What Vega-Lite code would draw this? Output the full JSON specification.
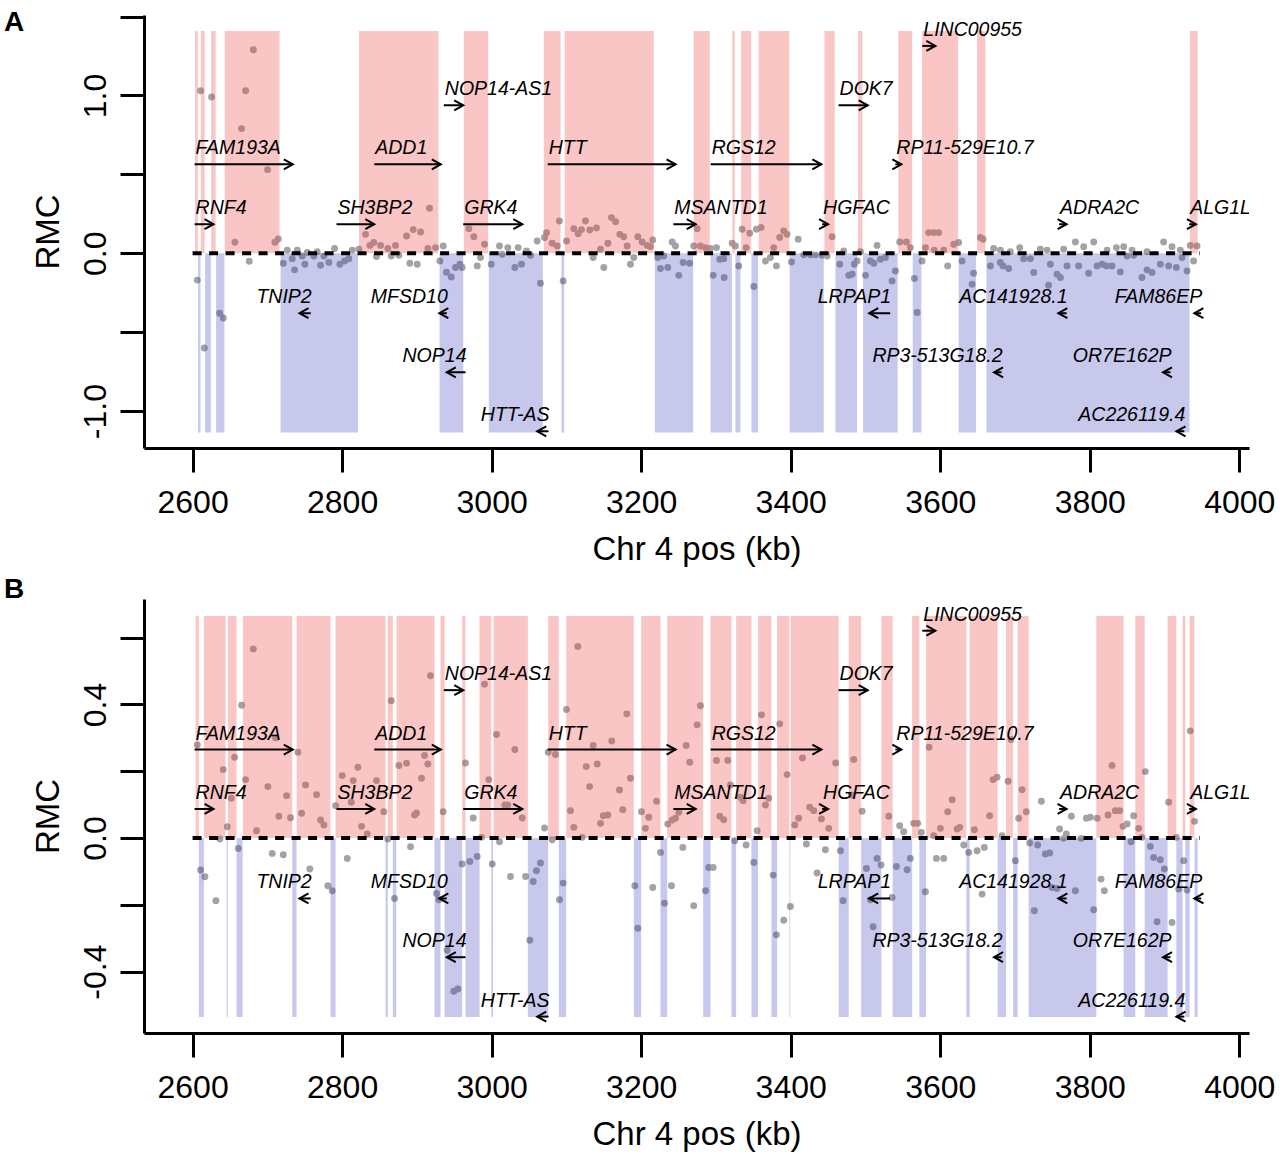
{
  "$schema": "https://vega.github.io/schema/vega-lite/v6.json",
  "description": "RMC along chr 4 (2.6-4.0 Mb), two panels with gene annotations.",
  "background": "white",
  "padding": {"left": 4, "right": 2, "top": 9, "bottom": 2},
  "spacing": 10,
  "config": {
    "font": "Liberation Sans",
    "view": {"stroke": null},
    "axis": {
      "grid": false,
      "domainColor": "black", "domainWidth": 3,
      "tickColor": "black", "tickWidth": 3, "tickSize": 24,
      "labelFont": "Liberation Sans", "labelFontSize": 32, "labelColor": "black",
      "titleFont": "Liberation Sans", "titleFontSize": 33, "titleFontWeight": "normal", "titleColor": "black",
      "labelFlush": false, "labelOverlap": false, "labelBound": false
    }
  },
  "datasets": {
    "genes": [
      {"gene": "RNF4", "left": 2602.7, "right": 2628, "strand": "+", "yA": 0.184, "yB": 0.087},
      {"gene": "FAM193A", "left": 2602.7, "right": 2734, "strand": "+", "yA": 0.564, "yB": 0.265},
      {"gene": "SH3BP2", "left": 2792.5, "right": 2843, "strand": "+", "yA": 0.184, "yB": 0.087},
      {"gene": "ADD1", "left": 2843, "right": 2932, "strand": "+", "yA": 0.564, "yB": 0.265},
      {"gene": "NOP14-AS1", "left": 2936, "right": 2962, "strand": "+", "yA": 0.938, "yB": 0.443},
      {"gene": "GRK4", "left": 2962, "right": 3041, "strand": "+", "yA": 0.184, "yB": 0.087},
      {"gene": "HTT", "left": 3075, "right": 3246, "strand": "+", "yA": 0.564, "yB": 0.265},
      {"gene": "MSANTD1", "left": 3243, "right": 3273, "strand": "+", "yA": 0.184, "yB": 0.087},
      {"gene": "RGS12", "left": 3293, "right": 3441, "strand": "+", "yA": 0.564, "yB": 0.265},
      {"gene": "HGFAC", "left": 3442, "right": 3450, "strand": "+", "yA": 0.184, "yB": 0.087},
      {"gene": "DOK7", "left": 3464, "right": 3503, "strand": "+", "yA": 0.938, "yB": 0.443},
      {"gene": "RP11-529E10.7", "left": 3540, "right": 3548, "strand": "+", "yA": 0.564, "yB": 0.265},
      {"gene": "LINC00955", "left": 3576, "right": 3593.5, "strand": "+", "yA": 1.314, "yB": 0.621},
      {"gene": "ADRA2C", "left": 3759, "right": 3769, "strand": "+", "yA": 0.184, "yB": 0.087},
      {"gene": "ALG1L", "left": 3933, "right": 3942, "strand": "+", "yA": 0.184, "yB": 0.087},
      {"gene": "TNIP2", "left": 2743, "right": 2758, "strand": "-", "yA": -0.38, "yB": -0.181},
      {"gene": "MFSD10", "left": 2930, "right": 2940, "strand": "-", "yA": -0.38, "yB": -0.181},
      {"gene": "NOP14", "left": 2940, "right": 2965, "strand": "-", "yA": -0.754, "yB": -0.357},
      {"gene": "HTT-AS", "left": 3061, "right": 3076, "strand": "-", "yA": -1.128, "yB": -0.535},
      {"gene": "LRPAP1", "left": 3505, "right": 3533, "strand": "-", "yA": -0.38, "yB": -0.181},
      {"gene": "AC141928.1", "left": 3758, "right": 3769, "strand": "-", "yA": -0.38, "yB": -0.181},
      {"gene": "RP3-513G18.2", "left": 3672, "right": 3682, "strand": "-", "yA": -0.754, "yB": -0.357},
      {"gene": "FAM86EP", "left": 3940, "right": 3949, "strand": "-", "yA": -0.38, "yB": -0.181},
      {"gene": "OR7E162P", "left": 3898, "right": 3908, "strand": "-", "yA": -0.754, "yB": -0.357},
      {"gene": "AC226119.4", "left": 3916, "right": 3926.5, "strand": "-", "yA": -1.128, "yB": -0.535}
    ],
    "zeroline": [{"from": 2600, "to": 3947, "level": 0}],
    "regionsA": [
      {"start": 2603.3, "end": 2607.0, "sign": "pos"}, {"start": 2607.4, "end": 2610.5, "sign": "neg"},
      {"start": 2610.9, "end": 2616.0, "sign": "pos"}, {"start": 2616.7, "end": 2624.5, "sign": "neg"},
      {"start": 2624.9, "end": 2630.8, "sign": "pos"}, {"start": 2631.4, "end": 2642.6, "sign": "neg"},
      {"start": 2643.0, "end": 2716.3, "sign": "pos"}, {"start": 2717.7, "end": 2821.3, "sign": "neg"},
      {"start": 2822.6, "end": 2928.9, "sign": "pos"}, {"start": 2930.3, "end": 2962.0, "sign": "neg"},
      {"start": 2962.8, "end": 2995.4, "sign": "pos"}, {"start": 2996.2, "end": 3068.4, "sign": "neg"},
      {"start": 3069.8, "end": 3092.1, "sign": "pos"}, {"start": 3093.4, "end": 3097.0, "sign": "neg"},
      {"start": 3097.8, "end": 3216.8, "sign": "pos"}, {"start": 3218.2, "end": 3269.5, "sign": "neg"},
      {"start": 3270.3, "end": 3291.7, "sign": "pos"}, {"start": 3292.7, "end": 3321.4, "sign": "neg"},
      {"start": 3321.9, "end": 3325.2, "sign": "pos"}, {"start": 3326.1, "end": 3332.8, "sign": "neg"},
      {"start": 3333.7, "end": 3347.1, "sign": "pos"}, {"start": 3347.5, "end": 3356.4, "sign": "neg"},
      {"start": 3357.2, "end": 3398.3, "sign": "pos"}, {"start": 3398.7, "end": 3444.2, "sign": "neg"},
      {"start": 3445.1, "end": 3458.9, "sign": "pos"}, {"start": 3459.8, "end": 3488.8, "sign": "neg"},
      {"start": 3490.2, "end": 3495.9, "sign": "pos"}, {"start": 3496.8, "end": 3543.1, "sign": "neg"},
      {"start": 3544.0, "end": 3562.4, "sign": "pos"}, {"start": 3563.2, "end": 3574.8, "sign": "neg"},
      {"start": 3575.7, "end": 3623.9, "sign": "pos"}, {"start": 3624.7, "end": 3647.9, "sign": "neg"},
      {"start": 3649.3, "end": 3660.4, "sign": "pos"}, {"start": 3661.7, "end": 3933.4, "sign": "neg"},
      {"start": 3933.8, "end": 3944.3, "sign": "pos"}
    ],
    "regionsB": [
      {"start": 2604.0, "end": 2608.4, "sign": "pos"}, {"start": 2608.4, "end": 2615.1, "sign": "neg"},
      {"start": 2615.1, "end": 2644.1, "sign": "pos"}, {"start": 2645.5, "end": 2647.0, "sign": "neg"},
      {"start": 2647.2, "end": 2658.8, "sign": "pos"}, {"start": 2658.8, "end": 2666.9, "sign": "neg"},
      {"start": 2667.3, "end": 2733.3, "sign": "pos"}, {"start": 2733.3, "end": 2739.1, "sign": "neg"},
      {"start": 2739.1, "end": 2784.5, "sign": "pos"}, {"start": 2784.5, "end": 2791.2, "sign": "neg"},
      {"start": 2791.2, "end": 2858.1, "sign": "pos"}, {"start": 2858.1, "end": 2861.1, "sign": "neg"},
      {"start": 2861.1, "end": 2867.8, "sign": "pos"}, {"start": 2867.8, "end": 2872.4, "sign": "neg"},
      {"start": 2872.8, "end": 2923.6, "sign": "pos"}, {"start": 2923.6, "end": 2931.6, "sign": "neg"},
      {"start": 2931.6, "end": 2937.0, "sign": "pos"}, {"start": 2937.0, "end": 2960.6, "sign": "neg"},
      {"start": 2960.6, "end": 2965.0, "sign": "pos"}, {"start": 2965.0, "end": 2983.8, "sign": "neg"},
      {"start": 2983.8, "end": 2999.4, "sign": "pos"}, {"start": 2999.6, "end": 3001.8, "sign": "neg"},
      {"start": 3002.5, "end": 3048.4, "sign": "pos"}, {"start": 3048.4, "end": 3075.6, "sign": "neg"},
      {"start": 3075.6, "end": 3089.8, "sign": "pos"}, {"start": 3089.8, "end": 3099.7, "sign": "neg"},
      {"start": 3099.7, "end": 3190.1, "sign": "pos"}, {"start": 3190.1, "end": 3200.0, "sign": "neg"},
      {"start": 3200.0, "end": 3225.8, "sign": "pos"}, {"start": 3225.8, "end": 3234.8, "sign": "neg"},
      {"start": 3234.8, "end": 3282.9, "sign": "pos"}, {"start": 3282.9, "end": 3292.7, "sign": "neg"},
      {"start": 3292.7, "end": 3320.7, "sign": "pos"}, {"start": 3320.7, "end": 3327.0, "sign": "neg"},
      {"start": 3327.0, "end": 3347.5, "sign": "pos"}, {"start": 3347.5, "end": 3356.4, "sign": "neg"},
      {"start": 3356.4, "end": 3374.2, "sign": "pos"}, {"start": 3374.2, "end": 3381.8, "sign": "neg"},
      {"start": 3381.8, "end": 3398.0, "sign": "pos"}, {"start": 3398.3, "end": 3399.4, "sign": "neg"},
      {"start": 3399.8, "end": 3464.2, "sign": "pos"}, {"start": 3464.2, "end": 3477.6, "sign": "neg"},
      {"start": 3477.6, "end": 3494.2, "sign": "pos"}, {"start": 3494.2, "end": 3521.3, "sign": "neg"},
      {"start": 3521.3, "end": 3536.4, "sign": "pos"}, {"start": 3536.4, "end": 3562.4, "sign": "neg"},
      {"start": 3562.4, "end": 3572.1, "sign": "pos"}, {"start": 3572.1, "end": 3581.1, "sign": "neg"},
      {"start": 3581.1, "end": 3635.0, "sign": "pos"}, {"start": 3635.0, "end": 3639.4, "sign": "neg"},
      {"start": 3639.4, "end": 3676.8, "sign": "pos"}, {"start": 3676.8, "end": 3688.1, "sign": "neg"},
      {"start": 3688.1, "end": 3697.4, "sign": "pos"}, {"start": 3697.4, "end": 3703.6, "sign": "neg"},
      {"start": 3703.6, "end": 3718.3, "sign": "pos"}, {"start": 3718.3, "end": 3808.8, "sign": "neg"},
      {"start": 3808.8, "end": 3845.3, "sign": "pos"}, {"start": 3845.3, "end": 3860.9, "sign": "neg"},
      {"start": 3860.9, "end": 3873.4, "sign": "pos"}, {"start": 3873.4, "end": 3904.1, "sign": "neg"},
      {"start": 3904.1, "end": 3915.8, "sign": "pos"}, {"start": 3915.8, "end": 3924.2, "sign": "neg"},
      {"start": 3924.2, "end": 3927.8, "sign": "pos"}, {"start": 3927.8, "end": 3933.6, "sign": "neg"},
      {"start": 3933.6, "end": 3939.8, "sign": "pos"}, {"start": 3940.2, "end": 3944.3, "sign": "neg"}
    ],
    "pointsA": [
      {"pos": 2610.7, "rmc": 1.03}, {"pos": 2625.4, "rmc": 0.99}, {"pos": 2681.2, "rmc": 1.29}, {"pos": 2670.9, "rmc": 1.03},
      {"pos": 2665.5, "rmc": 0.79}, {"pos": 2700.3, "rmc": 0.53}, {"pos": 2656.6, "rmc": 0.07}, {"pos": 2710.1, "rmc": 0.07},
      {"pos": 2714.6, "rmc": 0.09}, {"pos": 2606.3, "rmc": -0.17}, {"pos": 2615.6, "rmc": -0.6}, {"pos": 2636.1, "rmc": -0.38},
      {"pos": 2641.1, "rmc": -0.41}, {"pos": 2675.8, "rmc": -0.05}, {"pos": 2726.6, "rmc": 0.02}, {"pos": 2740.0, "rmc": 0.02},
      {"pos": 2753.4, "rmc": 0.005}, {"pos": 2766.7, "rmc": 0.01}, {"pos": 2789.9, "rmc": 0.03}, {"pos": 2813.5, "rmc": 0.02},
      {"pos": 2822.4, "rmc": 0.025}, {"pos": 2721.3, "rmc": -0.063}, {"pos": 2733.3, "rmc": -0.034}, {"pos": 2736.4, "rmc": -0.105},
      {"pos": 2750.2, "rmc": -0.07}, {"pos": 2762.2, "rmc": -0.017}, {"pos": 2771.2, "rmc": -0.076}, {"pos": 2775.6, "rmc": -0.017},
      {"pos": 2782.3, "rmc": -0.059}, {"pos": 2797.0, "rmc": -0.07}, {"pos": 2803.3, "rmc": -0.049}, {"pos": 2809.0, "rmc": -0.034},
      {"pos": 2746.7, "rmc": -0.017}, {"pos": 2831.3, "rmc": 0.12}, {"pos": 2837.1, "rmc": 0.05}, {"pos": 2842.4, "rmc": 0.068},
      {"pos": 2851.4, "rmc": 0.05}, {"pos": 2861.2, "rmc": 0.03}, {"pos": 2871.4, "rmc": 0.05}, {"pos": 2886.2, "rmc": 0.11},
      {"pos": 2895.1, "rmc": 0.15}, {"pos": 2904.9, "rmc": 0.135}, {"pos": 2914.7, "rmc": 0.03}, {"pos": 2916.9, "rmc": 0.285},
      {"pos": 2846.0, "rmc": -0.02}, {"pos": 2865.7, "rmc": -0.017}, {"pos": 2875.9, "rmc": -0.013}, {"pos": 2890.6, "rmc": -0.063},
      {"pos": 2900.5, "rmc": -0.07}, {"pos": 2925.0, "rmc": 0.036}, {"pos": 2935.2, "rmc": 0.046}, {"pos": 2930.7, "rmc": -0.049},
      {"pos": 2939.6, "rmc": -0.12}, {"pos": 2946.0, "rmc": -0.15}, {"pos": 2951.7, "rmc": -0.09}, {"pos": 2957.5, "rmc": -0.07},
      {"pos": 2960.6, "rmc": -0.09}, {"pos": 2969.5, "rmc": 0.156}, {"pos": 2976.2, "rmc": 0.105}, {"pos": 2990.5, "rmc": 0.057},
      {"pos": 2980.7, "rmc": -0.08}, {"pos": 2985.1, "rmc": -0.027}, {"pos": 3010.5, "rmc": 0.046}, {"pos": 3021.6, "rmc": 0.036},
      {"pos": 3035.5, "rmc": 0.036}, {"pos": 3060.9, "rmc": 0.078}, {"pos": 3046.6, "rmc": 0.015}, {"pos": 2999.4, "rmc": -0.07},
      {"pos": 3014.1, "rmc": -0.006}, {"pos": 3031.0, "rmc": -0.09}, {"pos": 3039.9, "rmc": -0.07}, {"pos": 3065.3, "rmc": -0.19},
      {"pos": 3052.0, "rmc": -0.013}, {"pos": 3073.4, "rmc": 0.13}, {"pos": 3070.7, "rmc": 0.1}, {"pos": 3081.0, "rmc": 0.063},
      {"pos": 3087.7, "rmc": 0.046}, {"pos": 3090.7, "rmc": 0.205}, {"pos": 3100.1, "rmc": 0.078}, {"pos": 3109.9, "rmc": 0.156},
      {"pos": 3115.7, "rmc": 0.124}, {"pos": 3120.2, "rmc": 0.15}, {"pos": 3125.5, "rmc": 0.205}, {"pos": 3131.3, "rmc": 0.147},
      {"pos": 3140.2, "rmc": 0.16}, {"pos": 3145.6, "rmc": 0.025}, {"pos": 3155.4, "rmc": 0.063}, {"pos": 3160.3, "rmc": 0.226},
      {"pos": 3165.7, "rmc": 0.2}, {"pos": 3171.4, "rmc": 0.12}, {"pos": 3176.7, "rmc": 0.105}, {"pos": 3181.2, "rmc": 0.046},
      {"pos": 3195.5, "rmc": 0.105}, {"pos": 3201.3, "rmc": 0.072}, {"pos": 3208.0, "rmc": 0.05}, {"pos": 3212.4, "rmc": 0.042},
      {"pos": 3215.5, "rmc": 0.084}, {"pos": 3135.8, "rmc": -0.027}, {"pos": 3150.0, "rmc": -0.09}, {"pos": 3185.7, "rmc": -0.07},
      {"pos": 3190.1, "rmc": -0.027}, {"pos": 3095.7, "rmc": -0.175}, {"pos": 3241.5, "rmc": 0.072}, {"pos": 3245.9, "rmc": 0.046},
      {"pos": 3222.2, "rmc": -0.027}, {"pos": 3225.8, "rmc": -0.097}, {"pos": 3235.6, "rmc": -0.09}, {"pos": 3250.3, "rmc": -0.14},
      {"pos": 3256.1, "rmc": -0.059}, {"pos": 3264.9, "rmc": -0.063}, {"pos": 3230.2, "rmc": -0.017}, {"pos": 3274.9, "rmc": 0.156},
      {"pos": 3270.3, "rmc": 0.046}, {"pos": 3279.3, "rmc": 0.046}, {"pos": 3285.9, "rmc": 0.036}, {"pos": 3292.6, "rmc": 0.03},
      {"pos": 3300.7, "rmc": 0.036}, {"pos": 3321.7, "rmc": 0.063}, {"pos": 3326.1, "rmc": 0.046}, {"pos": 3335.0, "rmc": 0.152},
      {"pos": 3345.2, "rmc": 0.127}, {"pos": 3354.2, "rmc": 0.152}, {"pos": 3360.4, "rmc": 0.163}, {"pos": 3340.4, "rmc": 0.036},
      {"pos": 3366.2, "rmc": -0.049}, {"pos": 3372.9, "rmc": -0.027}, {"pos": 3380.9, "rmc": -0.08}, {"pos": 3377.3, "rmc": 0.036},
      {"pos": 3385.3, "rmc": 0.1}, {"pos": 3390.7, "rmc": 0.141}, {"pos": 3395.2, "rmc": 0.12}, {"pos": 3410.0, "rmc": 0.089},
      {"pos": 3305.1, "rmc": -0.038}, {"pos": 3310.4, "rmc": -0.034}, {"pos": 3296.3, "rmc": -0.14}, {"pos": 3311.0, "rmc": -0.154},
      {"pos": 3330.5, "rmc": -0.08}, {"pos": 3350.6, "rmc": -0.21}, {"pos": 3401.0, "rmc": -0.055}, {"pos": 3417.5, "rmc": -0.01},
      {"pos": 3426.4, "rmc": -0.01}, {"pos": 3433.1, "rmc": -0.01}, {"pos": 3442.1, "rmc": -0.013}, {"pos": 3448.7, "rmc": -0.017},
      {"pos": 3455.4, "rmc": 0.105}, {"pos": 3470.9, "rmc": 0.015}, {"pos": 3493.3, "rmc": 0.01}, {"pos": 3515.5, "rmc": 0.05},
      {"pos": 3465.6, "rmc": -0.07}, {"pos": 3477.6, "rmc": -0.14}, {"pos": 3482.2, "rmc": -0.133}, {"pos": 3485.2, "rmc": -0.07},
      {"pos": 3488.8, "rmc": -0.049}, {"pos": 3500.0, "rmc": -0.14}, {"pos": 3506.6, "rmc": -0.049}, {"pos": 3511.1, "rmc": -0.063},
      {"pos": 3520.0, "rmc": -0.038}, {"pos": 3526.7, "rmc": -0.027}, {"pos": 3535.6, "rmc": -0.175}, {"pos": 3540.1, "rmc": -0.112},
      {"pos": 3569.1, "rmc": -0.375}, {"pos": 3565.4, "rmc": -0.16}, {"pos": 3545.8, "rmc": 0.072}, {"pos": 3554.8, "rmc": 0.072},
      {"pos": 3560.1, "rmc": 0.036}, {"pos": 3584.6, "rmc": 0.131}, {"pos": 3591.3, "rmc": 0.131}, {"pos": 3598.0, "rmc": 0.131},
      {"pos": 3580.2, "rmc": 0.036}, {"pos": 3592.0, "rmc": 0.02}, {"pos": 3604.7, "rmc": 0.02}, {"pos": 3618.1, "rmc": 0.057},
      {"pos": 3624.7, "rmc": 0.068}, {"pos": 3575.8, "rmc": -0.049}, {"pos": 3610.0, "rmc": -0.08}, {"pos": 3653.7, "rmc": 0.1},
      {"pos": 3657.3, "rmc": 0.089}, {"pos": 3934.5, "rmc": 0.05}, {"pos": 3943.5, "rmc": 0.046}, {"pos": 3671.5, "rmc": 0.03},
      {"pos": 3680.4, "rmc": 0.02}, {"pos": 3693.8, "rmc": 0.01}, {"pos": 3706.3, "rmc": 0.036}, {"pos": 3733.9, "rmc": 0.025},
      {"pos": 3742.9, "rmc": 0.02}, {"pos": 3765.1, "rmc": 0.025}, {"pos": 3780.8, "rmc": 0.072}, {"pos": 3791.9, "rmc": 0.042},
      {"pos": 3805.3, "rmc": 0.072}, {"pos": 3823.2, "rmc": 0.02}, {"pos": 3835.6, "rmc": 0.036}, {"pos": 3845.4, "rmc": 0.042},
      {"pos": 3856.6, "rmc": 0.02}, {"pos": 3876.6, "rmc": 0.01}, {"pos": 3898.8, "rmc": 0.072}, {"pos": 3910.0, "rmc": 0.042},
      {"pos": 3921.1, "rmc": 0.02}, {"pos": 3938.9, "rmc": -0.049}, {"pos": 3629.2, "rmc": -0.049}, {"pos": 3644.7, "rmc": -0.127},
      {"pos": 3667.1, "rmc": -0.08}, {"pos": 3680.4, "rmc": -0.059}, {"pos": 3684.0, "rmc": -0.08}, {"pos": 3691.5, "rmc": -0.097},
      {"pos": 3711.6, "rmc": -0.034}, {"pos": 3720.6, "rmc": -0.034}, {"pos": 3725.0, "rmc": -0.122}, {"pos": 3747.3, "rmc": -0.07},
      {"pos": 3756.3, "rmc": -0.133}, {"pos": 3760.7, "rmc": -0.154}, {"pos": 3745.0, "rmc": -0.203}, {"pos": 3769.6, "rmc": -0.08},
      {"pos": 3785.2, "rmc": -0.08}, {"pos": 3798.5, "rmc": -0.127}, {"pos": 3809.8, "rmc": -0.08}, {"pos": 3816.5, "rmc": -0.07},
      {"pos": 3822.2, "rmc": -0.08}, {"pos": 3829.8, "rmc": -0.08}, {"pos": 3840.9, "rmc": -0.118}, {"pos": 3849.9, "rmc": -0.017},
      {"pos": 3858.7, "rmc": -0.013}, {"pos": 3869.9, "rmc": -0.154}, {"pos": 3876.6, "rmc": -0.105}, {"pos": 3883.3, "rmc": -0.122},
      {"pos": 3894.4, "rmc": -0.07}, {"pos": 3905.5, "rmc": -0.08}, {"pos": 3915.8, "rmc": -0.09}, {"pos": 3930.1, "rmc": -0.112},
      {"pos": 3923.4, "rmc": -0.027}, {"pos": 3642.6, "rmc": -0.196}
    ],
    "pointsB": [
      {"pos": 2681.2, "rmc": 0.566}, {"pos": 2665.5, "rmc": 0.398}, {"pos": 2606.3, "rmc": 0.279}, {"pos": 2711.0, "rmc": 0.3},
      {"pos": 2740.8, "rmc": 0.257}, {"pos": 2656.2, "rmc": 0.242}, {"pos": 2641.0, "rmc": 0.205}, {"pos": 2670.9, "rmc": 0.175},
      {"pos": 2700.7, "rmc": 0.154}, {"pos": 2651.7, "rmc": 0.119}, {"pos": 2725.7, "rmc": 0.127}, {"pos": 2751.1, "rmc": 0.159},
      {"pos": 2765.8, "rmc": 0.13}, {"pos": 2715.4, "rmc": 0.065}, {"pos": 2731.0, "rmc": 0.061}, {"pos": 2745.8, "rmc": 0.074},
      {"pos": 2771.2, "rmc": 0.054}, {"pos": 2775.6, "rmc": 0.039}, {"pos": 2685.6, "rmc": 0.022}, {"pos": 2646.4, "rmc": 0.034},
      {"pos": 2636.5, "rmc": -0.003}, {"pos": 2610.7, "rmc": -0.096}, {"pos": 2616.5, "rmc": -0.116}, {"pos": 2661.1, "rmc": -0.031},
      {"pos": 2631.2, "rmc": -0.188}, {"pos": 2706.5, "rmc": -0.046}, {"pos": 2721.3, "rmc": -0.05}, {"pos": 2756.8, "rmc": -0.093},
      {"pos": 2780.9, "rmc": -0.143}, {"pos": 2786.8, "rmc": -0.158}, {"pos": 2806.9, "rmc": -0.061}, {"pos": 2800.2, "rmc": 0.187},
      {"pos": 2821.1, "rmc": 0.212}, {"pos": 2814.9, "rmc": 0.172}, {"pos": 2791.2, "rmc": 0.097}, {"pos": 2812.2, "rmc": 0.107},
      {"pos": 2826.0, "rmc": 0.035}, {"pos": 2833.6, "rmc": 0.012}, {"pos": 2846.0, "rmc": 0.172}, {"pos": 2855.8, "rmc": 0.079},
      {"pos": 2875.9, "rmc": 0.217}, {"pos": 2886.2, "rmc": 0.224}, {"pos": 2865.7, "rmc": 0.411}, {"pos": 2861.2, "rmc": -0.003},
      {"pos": 2891.5, "rmc": -0.026}, {"pos": 2870.1, "rmc": -0.181}, {"pos": 2896.9, "rmc": 0.069}, {"pos": 2899.5, "rmc": 0.075},
      {"pos": 2906.2, "rmc": 0.179}, {"pos": 2910.2, "rmc": 0.247}, {"pos": 2914.7, "rmc": 0.222}, {"pos": 2918.2, "rmc": 0.486},
      {"pos": 2935.2, "rmc": 0.079}, {"pos": 2926.3, "rmc": -0.166}, {"pos": 2929.3, "rmc": -0.185}, {"pos": 2940.5, "rmc": -0.336},
      {"pos": 2949.4, "rmc": -0.459}, {"pos": 2954.8, "rmc": -0.452}, {"pos": 2960.6, "rmc": -0.078}, {"pos": 2970.8, "rmc": -0.07},
      {"pos": 2980.7, "rmc": -0.055}, {"pos": 2965.0, "rmc": 0.225}, {"pos": 2975.3, "rmc": 0.06}, {"pos": 2990.5, "rmc": 0.461},
      {"pos": 2996.2, "rmc": 0.175}, {"pos": 3006.5, "rmc": 0.31}, {"pos": 3031.0, "rmc": 0.265}, {"pos": 3017.6, "rmc": 0.099},
      {"pos": 3021.6, "rmc": 0.099}, {"pos": 3040.9, "rmc": 0.06}, {"pos": 2986.5, "rmc": 0.002}, {"pos": 3000.8, "rmc": -0.078},
      {"pos": 3010.5, "rmc": -0.011}, {"pos": 3025.2, "rmc": -0.115}, {"pos": 3045.3, "rmc": -0.115}, {"pos": 3055.6, "rmc": -0.13},
      {"pos": 3060.0, "rmc": -0.098}, {"pos": 3065.3, "rmc": -0.075}, {"pos": 3051.0, "rmc": -0.306}, {"pos": 3070.7, "rmc": 0.03},
      {"pos": 3075.6, "rmc": 0.257}, {"pos": 3085.4, "rmc": 0.25}, {"pos": 3081.0, "rmc": -0.005}, {"pos": 3095.7, "rmc": -0.135},
      {"pos": 3090.7, "rmc": -0.185}, {"pos": 3115.2, "rmc": 0.574}, {"pos": 3100.1, "rmc": 0.385}, {"pos": 3105.5, "rmc": 0.082},
      {"pos": 3109.9, "rmc": 0.032}, {"pos": 3121.1, "rmc": 0.002}, {"pos": 3126.5, "rmc": 0.214}, {"pos": 3141.2, "rmc": 0.222},
      {"pos": 3131.0, "rmc": 0.154}, {"pos": 3135.8, "rmc": 0.277}, {"pos": 3149.2, "rmc": 0.067}, {"pos": 3155.4, "rmc": 0.069},
      {"pos": 3145.6, "rmc": 0.044}, {"pos": 3160.7, "rmc": 0.291}, {"pos": 3171.0, "rmc": 0.144}, {"pos": 3175.4, "rmc": 0.085},
      {"pos": 3180.8, "rmc": 0.372}, {"pos": 3185.7, "rmc": 0.179}, {"pos": 3191.5, "rmc": -0.143}, {"pos": 3195.5, "rmc": -0.27},
      {"pos": 3200.4, "rmc": 0.079}, {"pos": 3210.2, "rmc": 0.062}, {"pos": 3205.7, "rmc": 0.029}, {"pos": 3215.5, "rmc": -0.148},
      {"pos": 3220.5, "rmc": 0.11}, {"pos": 3225.8, "rmc": -0.043}, {"pos": 3231.2, "rmc": -0.195}, {"pos": 3235.6, "rmc": 0.042},
      {"pos": 3241.5, "rmc": 0.054}, {"pos": 3245.9, "rmc": 0.059}, {"pos": 3240.5, "rmc": -0.143}, {"pos": 3250.3, "rmc": 0.077},
      {"pos": 3255.7, "rmc": -0.028}, {"pos": 3260.2, "rmc": 0.277}, {"pos": 3265.0, "rmc": 0.227}, {"pos": 3270.3, "rmc": -0.203},
      {"pos": 3274.9, "rmc": 0.339}, {"pos": 3279.3, "rmc": 0.396}, {"pos": 3286.0, "rmc": -0.158}, {"pos": 3290.4, "rmc": -0.088},
      {"pos": 3296.3, "rmc": -0.088}, {"pos": 3300.7, "rmc": 0.232}, {"pos": 3315.8, "rmc": 0.232}, {"pos": 3305.1, "rmc": 0.065},
      {"pos": 3310.4, "rmc": 0.055}, {"pos": 3319.4, "rmc": 0.159}, {"pos": 3332.8, "rmc": 0.122}, {"pos": 3336.4, "rmc": 0.112},
      {"pos": 3325.2, "rmc": -0.008}, {"pos": 3340.4, "rmc": -0.021}, {"pos": 3350.6, "rmc": -0.073}, {"pos": 3355.1, "rmc": 0.022},
      {"pos": 3360.9, "rmc": 0.369}, {"pos": 3385.3, "rmc": 0.342}, {"pos": 3366.2, "rmc": 0.099}, {"pos": 3370.6, "rmc": 0.119},
      {"pos": 3376.5, "rmc": -0.111}, {"pos": 3380.9, "rmc": -0.29}, {"pos": 3390.7, "rmc": -0.246}, {"pos": 3399.6, "rmc": -0.205},
      {"pos": 3395.2, "rmc": 0.19}, {"pos": 3405.4, "rmc": 0.039}, {"pos": 3410.7, "rmc": 0.059}, {"pos": 3415.7, "rmc": 0.24},
      {"pos": 3425.4, "rmc": 0.092}, {"pos": 3430.8, "rmc": 0.082}, {"pos": 3421.0, "rmc": -0.018}, {"pos": 3435.3, "rmc": -0.105},
      {"pos": 3441.1, "rmc": 0.057}, {"pos": 3446.4, "rmc": -0.035}, {"pos": 3450.9, "rmc": 0.029}, {"pos": 3460.2, "rmc": 0.225},
      {"pos": 3466.5, "rmc": -0.038}, {"pos": 3470.1, "rmc": -0.188}, {"pos": 3484.3, "rmc": 0.235}, {"pos": 3481.2, "rmc": 0.129},
      {"pos": 3495.5, "rmc": 0.08}, {"pos": 3501.3, "rmc": -0.091}, {"pos": 3506.6, "rmc": -0.185}, {"pos": 3510.2, "rmc": -0.266},
      {"pos": 3515.5, "rmc": -0.061}, {"pos": 3520.9, "rmc": -0.081}, {"pos": 3531.1, "rmc": 0.065}, {"pos": 3535.6, "rmc": -0.178},
      {"pos": 3541.4, "rmc": -0.085}, {"pos": 3555.7, "rmc": -0.095}, {"pos": 3560.1, "rmc": -0.061}, {"pos": 3545.8, "rmc": 0.037},
      {"pos": 3551.1, "rmc": 0.019}, {"pos": 3564.5, "rmc": 0.044}, {"pos": 3569.9, "rmc": 0.044}, {"pos": 3574.8, "rmc": 0.017},
      {"pos": 3580.2, "rmc": -0.161}, {"pos": 3585.1, "rmc": 0.272}, {"pos": 3591.3, "rmc": 0.007}, {"pos": 3604.7, "rmc": -0.061},
      {"pos": 3594.9, "rmc": -0.061}, {"pos": 3600.2, "rmc": 0.029}, {"pos": 3610.0, "rmc": 0.079}, {"pos": 3615.9, "rmc": 0.115},
      {"pos": 3622.6, "rmc": 0.027}, {"pos": 3626.1, "rmc": 0.032}, {"pos": 3631.4, "rmc": -0.021}, {"pos": 3638.1, "rmc": -0.043},
      {"pos": 3649.3, "rmc": -0.038}, {"pos": 3659.0, "rmc": -0.028}, {"pos": 3645.7, "rmc": 0.025}, {"pos": 3666.1, "rmc": 0.067},
      {"pos": 3670.7, "rmc": 0.175}, {"pos": 3676.0, "rmc": 0.182}, {"pos": 3690.7, "rmc": 0.17}, {"pos": 3694.7, "rmc": 0.295},
      {"pos": 3709.5, "rmc": 0.145}, {"pos": 3704.9, "rmc": 0.059}, {"pos": 3715.2, "rmc": 0.079}, {"pos": 3682.7, "rmc": 0.007},
      {"pos": 3700.5, "rmc": -0.068}, {"pos": 3656.0, "rmc": -0.168}, {"pos": 3735.3, "rmc": 0.11}, {"pos": 3719.6, "rmc": -0.015},
      {"pos": 3730.3, "rmc": -0.021}, {"pos": 3740.6, "rmc": -0.048}, {"pos": 3746.4, "rmc": -0.045}, {"pos": 3725.9, "rmc": -0.218},
      {"pos": 3749.5, "rmc": -0.148}, {"pos": 3756.2, "rmc": -0.151}, {"pos": 3759.7, "rmc": 0.027}, {"pos": 3768.7, "rmc": 0.012},
      {"pos": 3765.1, "rmc": -0.001}, {"pos": 3775.4, "rmc": 0.065}, {"pos": 3780.8, "rmc": -0.158}, {"pos": 3788.4, "rmc": -0.001},
      {"pos": 3795.5, "rmc": 0.059}, {"pos": 3800.8, "rmc": 0.062}, {"pos": 3809.8, "rmc": 0.059}, {"pos": 3805.3, "rmc": -0.215},
      {"pos": 3815.1, "rmc": -0.123}, {"pos": 3819.5, "rmc": -0.158}, {"pos": 3824.5, "rmc": 0.069}, {"pos": 3834.2, "rmc": 0.082},
      {"pos": 3840.0, "rmc": 0.082}, {"pos": 3829.8, "rmc": 0.217}, {"pos": 3844.5, "rmc": 0.035}, {"pos": 3849.9, "rmc": 0.042},
      {"pos": 3858.7, "rmc": 0.067}, {"pos": 3865.4, "rmc": 0.029}, {"pos": 3855.2, "rmc": -0.011}, {"pos": 3874.3, "rmc": 0.199},
      {"pos": 3881.0, "rmc": -0.025}, {"pos": 3885.5, "rmc": -0.058}, {"pos": 3894.4, "rmc": -0.065}, {"pos": 3899.8, "rmc": -0.093},
      {"pos": 3869.9, "rmc": 0.002}, {"pos": 3905.5, "rmc": 0.107}, {"pos": 3915.8, "rmc": 0.002}, {"pos": 3918.9, "rmc": -0.153},
      {"pos": 3930.1, "rmc": -0.156}, {"pos": 3925.6, "rmc": -0.068}, {"pos": 3890.0, "rmc": -0.251}, {"pos": 3910.0, "rmc": -0.253},
      {"pos": 3934.5, "rmc": 0.321}, {"pos": 3940.2, "rmc": 0.05}
    ]
  },
  "vconcat": [
    {
      "width": 1105,
      "height": 433,
      "title": {"text": "A", "anchor": "start", "frame": "bounds", "font": "Liberation Sans", "fontSize": 28, "fontWeight": "bold", "color": "black", "baseline": "alphabetic", "offset": -44, "dx": -28},
      "layer": [
        {
          "data": {"name": "pointsA"},
          "mark": {"type": "circle", "size": 48, "color": "#a3a3a3", "opacity": 1},
          "encoding": {
            "x": {"field": "pos", "type": "quantitative", "title": "Chr 4 pos (kb)",
              "scale": {"domain": [2535, 4013], "nice": false, "zero": false},
              "axis": {"values": [2600, 2800, 3000, 3200, 3400, 3600, 3800, 4000], "format": "d", "labelPadding": 15, "titlePadding": 15}},
            "y": {"field": "rmc", "type": "quantitative", "title": "RMC",
              "scale": {"domain": [-1.234, 1.51], "nice": false, "zero": false},
              "axis": {"values": [-1, -0.5, 0, 0.5, 1, 1.5], "labelExpr": "datum.value == 1 ? '1.0' : datum.value == 0 ? '0.0' : datum.value == -1 ? '-1.0' : ''", "labelAngle": 270, "labelAlign": "center", "labelBaseline": "alphabetic", "labelPadding": 15, "titlePadding": 14}}
          }
        },
        {
          "data": {"name": "regionsA"},
          "transform": [{"filter": "datum.sign === 'pos'"}],
          "mark": {"type": "rect", "color": "rgb(235,62,62)", "opacity": 0.3},
          "encoding": {
            "x": {"field": "start", "type": "quantitative", "title": "Chr 4 pos (kb)"},
            "x2": {"field": "end"},
            "y": {"datum": 0, "type": "quantitative", "title": "RMC"},
            "y2": {"datum": 1.409}
          }
        },
        {
          "data": {"name": "regionsA"},
          "transform": [{"filter": "datum.sign === 'neg'"}],
          "mark": {"type": "rect", "color": "rgb(50,50,190)", "opacity": 0.27},
          "encoding": {
            "x": {"field": "start", "type": "quantitative", "title": "Chr 4 pos (kb)"},
            "x2": {"field": "end"},
            "y": {"datum": 0, "type": "quantitative", "title": "RMC"},
            "y2": {"datum": -1.136}
          }
        },
        {
          "data": {"name": "zeroline"},
          "mark": {"type": "rule", "color": "black", "strokeWidth": 4, "strokeDash": [9, 7.5]},
          "encoding": {
            "x": {"field": "from", "type": "quantitative", "title": "Chr 4 pos (kb)"},
            "x2": {"field": "to"},
            "y": {"field": "level", "type": "quantitative", "title": "RMC"}
          }
        },
        {
          "data": {"name": "genes"},
          "mark": {"type": "rule", "color": "black", "strokeWidth": 2},
          "encoding": {
            "x": {"field": "left", "type": "quantitative", "title": "Chr 4 pos (kb)"},
            "x2": {"field": "right"},
            "y": {"field": "yA", "type": "quantitative", "title": "RMC"}
          }
        },
        {
          "data": {"name": "genes"},
          "transform": [{"filter": "datum.strand === '+'"}],
          "mark": {"type": "point", "shape": "M-1.8,-1L0,0L-1.8,1", "size": 100, "filled": false, "stroke": "black", "strokeWidth": 2, "opacity": 1},
          "encoding": {
            "x": {"field": "right", "type": "quantitative", "title": "Chr 4 pos (kb)"},
            "y": {"field": "yA", "type": "quantitative", "title": "RMC"}
          }
        },
        {
          "data": {"name": "genes"},
          "transform": [{"filter": "datum.strand === '-'"}],
          "mark": {"type": "point", "shape": "M1.8,-1L0,0L1.8,1", "size": 100, "filled": false, "stroke": "black", "strokeWidth": 2, "opacity": 1},
          "encoding": {
            "x": {"field": "left", "type": "quantitative", "title": "Chr 4 pos (kb)"},
            "y": {"field": "yA", "type": "quantitative", "title": "RMC"}
          }
        },
        {
          "data": {"name": "genes"},
          "transform": [{"filter": "datum.strand === '+'"}],
          "mark": {"type": "text", "align": "left", "baseline": "alphabetic", "dx": 1, "dy": -10, "font": "Liberation Sans", "fontSize": 19.5, "fontStyle": "italic", "color": "black", "clip": true},
          "encoding": {
            "x": {"field": "left", "type": "quantitative", "title": "Chr 4 pos (kb)"},
            "y": {"field": "yA", "type": "quantitative", "title": "RMC"},
            "text": {"field": "gene"}
          }
        },
        {
          "data": {"name": "genes"},
          "transform": [{"filter": "datum.strand === '-'"}],
          "mark": {"type": "text", "align": "right", "baseline": "alphabetic", "dx": 1, "dy": -10, "font": "Liberation Sans", "fontSize": 19.5, "fontStyle": "italic", "color": "black", "clip": true},
          "encoding": {
            "x": {"field": "right", "type": "quantitative", "title": "Chr 4 pos (kb)"},
            "y": {"field": "yA", "type": "quantitative", "title": "RMC"},
            "text": {"field": "gene"}
          }
        }
      ]
    },
    {
      "width": 1105,
      "height": 434,
      "title": {"text": "B", "anchor": "start", "frame": "bounds", "font": "Liberation Sans", "fontSize": 28, "fontWeight": "bold", "color": "black", "baseline": "alphabetic", "offset": -27, "dx": -28},
      "layer": [
        {
          "data": {"name": "pointsB"},
          "mark": {"type": "circle", "size": 48, "color": "#a3a3a3", "opacity": 1},
          "encoding": {
            "x": {"field": "pos", "type": "quantitative", "title": "Chr 4 pos (kb)",
              "scale": {"domain": [2535, 4013], "nice": false, "zero": false},
              "axis": {"values": [2600, 2800, 3000, 3200, 3400, 3600, 3800, 4000], "format": "d", "labelPadding": 15, "titlePadding": 15}},
            "y": {"field": "rmc", "type": "quantitative", "title": "RMC",
              "scale": {"domain": [-0.584, 0.716], "nice": false, "zero": false},
              "axis": {"values": [-0.4, -0.2, 0, 0.2, 0.4, 0.6], "labelExpr": "datum.value == 0.4 ? '0.4' : datum.value == 0 ? '0.0' : datum.value == -0.4 ? '-0.4' : ''", "labelAngle": 270, "labelAlign": "center", "labelBaseline": "alphabetic", "labelPadding": 15, "titlePadding": 14}}
          }
        },
        {
          "data": {"name": "regionsB"},
          "transform": [{"filter": "datum.sign === 'pos'"}],
          "mark": {"type": "rect", "color": "rgb(235,62,62)", "opacity": 0.3},
          "encoding": {
            "x": {"field": "start", "type": "quantitative", "title": "Chr 4 pos (kb)"},
            "x2": {"field": "end"},
            "y": {"datum": 0, "type": "quantitative", "title": "RMC"},
            "y2": {"datum": 0.665}
          }
        },
        {
          "data": {"name": "regionsB"},
          "transform": [{"filter": "datum.sign === 'neg'"}],
          "mark": {"type": "rect", "color": "rgb(50,50,190)", "opacity": 0.27},
          "encoding": {
            "x": {"field": "start", "type": "quantitative", "title": "Chr 4 pos (kb)"},
            "x2": {"field": "end"},
            "y": {"datum": 0, "type": "quantitative", "title": "RMC"},
            "y2": {"datum": -0.536}
          }
        },
        {
          "data": {"name": "zeroline"},
          "mark": {"type": "rule", "color": "black", "strokeWidth": 4, "strokeDash": [9, 7.5]},
          "encoding": {
            "x": {"field": "from", "type": "quantitative", "title": "Chr 4 pos (kb)"},
            "x2": {"field": "to"},
            "y": {"field": "level", "type": "quantitative", "title": "RMC"}
          }
        },
        {
          "data": {"name": "genes"},
          "mark": {"type": "rule", "color": "black", "strokeWidth": 2},
          "encoding": {
            "x": {"field": "left", "type": "quantitative", "title": "Chr 4 pos (kb)"},
            "x2": {"field": "right"},
            "y": {"field": "yB", "type": "quantitative", "title": "RMC"}
          }
        },
        {
          "data": {"name": "genes"},
          "transform": [{"filter": "datum.strand === '+'"}],
          "mark": {"type": "point", "shape": "M-1.8,-1L0,0L-1.8,1", "size": 100, "filled": false, "stroke": "black", "strokeWidth": 2, "opacity": 1},
          "encoding": {
            "x": {"field": "right", "type": "quantitative", "title": "Chr 4 pos (kb)"},
            "y": {"field": "yB", "type": "quantitative", "title": "RMC"}
          }
        },
        {
          "data": {"name": "genes"},
          "transform": [{"filter": "datum.strand === '-'"}],
          "mark": {"type": "point", "shape": "M1.8,-1L0,0L1.8,1", "size": 100, "filled": false, "stroke": "black", "strokeWidth": 2, "opacity": 1},
          "encoding": {
            "x": {"field": "left", "type": "quantitative", "title": "Chr 4 pos (kb)"},
            "y": {"field": "yB", "type": "quantitative", "title": "RMC"}
          }
        },
        {
          "data": {"name": "genes"},
          "transform": [{"filter": "datum.strand === '+'"}],
          "mark": {"type": "text", "align": "left", "baseline": "alphabetic", "dx": 1, "dy": -10, "font": "Liberation Sans", "fontSize": 19.5, "fontStyle": "italic", "color": "black", "clip": true},
          "encoding": {
            "x": {"field": "left", "type": "quantitative", "title": "Chr 4 pos (kb)"},
            "y": {"field": "yB", "type": "quantitative", "title": "RMC"},
            "text": {"field": "gene"}
          }
        },
        {
          "data": {"name": "genes"},
          "transform": [{"filter": "datum.strand === '-'"}],
          "mark": {"type": "text", "align": "right", "baseline": "alphabetic", "dx": 1, "dy": -10, "font": "Liberation Sans", "fontSize": 19.5, "fontStyle": "italic", "color": "black", "clip": true},
          "encoding": {
            "x": {"field": "right", "type": "quantitative", "title": "Chr 4 pos (kb)"},
            "y": {"field": "yB", "type": "quantitative", "title": "RMC"},
            "text": {"field": "gene"}
          }
        }
      ]
    }
  ]
}
